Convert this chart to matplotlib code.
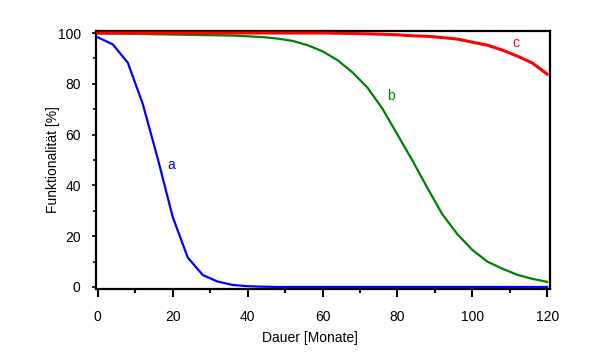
import matplotlib
matplotlib.use("Agg")
import matplotlib.pyplot as plt
from matplotlib.ticker import MultipleLocator

plt.rcParams['font.family'] = ['Liberation Sans', 'DejaVu Sans']

months = list(range(0, 121, 4))
curve_a = [98.3, 95.5, 88.3, 72.0, 50.5, 27.5, 11.6, 4.7, 2.1, 0.8, 0.3, 0.1,
           0, 0, 0, 0, 0, 0, 0, 0, 0, 0, 0, 0, 0, 0, 0, 0, 0, 0, 0]
curve_b = [99.8, 99.8, 99.7, 99.6, 99.5, 99.4, 99.3, 99.2, 99.1, 99.0, 98.7,
           98.4, 97.8, 96.9, 95.2, 92.8, 89.3, 84.5, 78.5, 70.2, 60.0, 49.8,
           39.0, 28.6, 20.8, 14.6, 10.0, 7.2, 4.8, 3.2, 2.0]
curve_c = [100, 100, 100, 100, 100, 100, 100, 100, 100, 100, 100, 100, 100,
           100, 100, 100, 99.9, 99.8, 99.7, 99.5, 99.3, 98.9, 98.7, 98.2, 97.6,
           96.4, 95.2, 93.3, 90.9, 88.2, 83.8]
labels = ['a', 'b', 'c']
label_pos = [(19.7, 48), (78.4, 75.3), (111.7, 96)]
colors = ['#0000ff', '#008000', '#ff0000']

fig = plt.figure(figsize=(6, 3.52), dpi=100)
ax = fig.add_axes([0.16, 0.179, 0.757, 0.733])

ax.plot(months, curve_a, color=colors[0], lw=1.6, zorder=3, clip_on=False)
ax.plot(months, curve_b, color=colors[1], lw=1.6, zorder=3, clip_on=False)
ax.plot(months, curve_c, color=colors[2], lw=2.2, zorder=4, clip_on=False)
for lab, (x, y), c in zip(labels, label_pos, colors):
    ax.text(x, y, lab, color=c, fontsize=10, ha='center', va='center')

ax.set_xlim(-0.5, 120.8)
ax.set_ylim(-0.8, 100.8)
ax.xaxis.set_major_locator(MultipleLocator(20))
ax.xaxis.set_minor_locator(MultipleLocator(10))
ax.yaxis.set_major_locator(MultipleLocator(20))
ax.yaxis.set_minor_locator(MultipleLocator(10))
for s in ax.spines.values():
    s.set_linewidth(1.6)
    s.set_zorder(2)
ax.tick_params(axis='x', which='major', length=6, width=1.5, pad=9, labelsize=10)
ax.tick_params(axis='x', which='minor', length=3, width=1.5)
ax.tick_params(axis='y', which='major', length=3, width=1.2, pad=8, labelsize=10)
ax.tick_params(axis='y', which='minor', length=2, width=1.2)

ax.set_xlabel('Dauer [Monate]', fontsize=10)
ax.xaxis.set_label_coords(0.471, -0.19)
ax.xaxis.label.set_va('center')
ax.set_ylabel('Funktionalität [%]', fontsize=10)
ax.yaxis.set_label_coords(-0.095, 0.5)
ax.yaxis.label.set_va('center')

fig.savefig('out.png', dpi=100)
